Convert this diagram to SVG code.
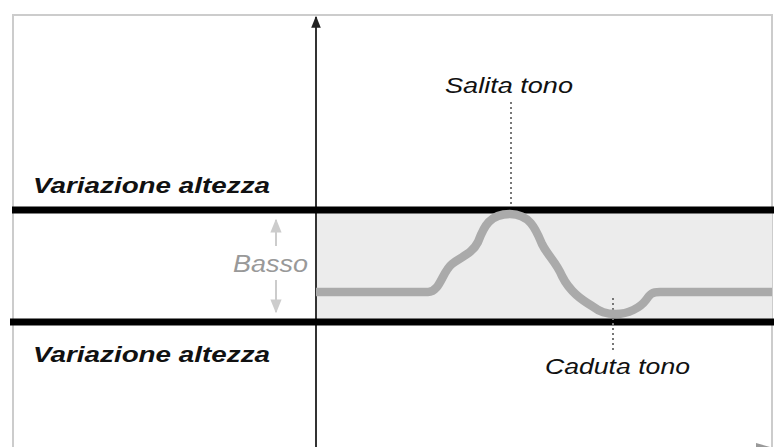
<svg xmlns="http://www.w3.org/2000/svg" width="776" height="447" viewBox="0 0 776 447">
<style>
.lbl{font-family:"Liberation Sans",Arial,sans-serif;font-style:italic;fill:#111}
.b{font-weight:bold}
.dot{stroke:#777;stroke-width:2;stroke-dasharray:2 3;fill:none}
</style>
<defs>
<marker id="ah" viewBox="0 0 10 10" refX="9" refY="5" markerWidth="6" markerHeight="6" orient="auto"><path d="M0,1 L10,5 L0,9 Z" fill="#222"/></marker>
<marker id="ahg" viewBox="0 0 10 10" refX="9" refY="5" markerWidth="7" markerHeight="7" orient="auto"><path d="M0,1 L10,5 L0,9 Z" fill="#ccc"/></marker>
</defs>
<rect width="776" height="447" fill="#fff"/>
<g id="frame">
<rect x="13" y="15" width="759" height="450" fill="none" stroke="#ccc" stroke-width="2"/>
<rect x="316" y="210" width="456" height="112" fill="#ececec"/>
</g>
<g id="connectors">
<line x1="316" y1="447" x2="316" y2="17" stroke="#333" stroke-width="2" marker-end="url(#ah)"/>
<path d="M756,443 L770,447 L756,451 Z" fill="#999"/>
<line x1="12" y1="210" x2="774" y2="210" stroke="#000" stroke-width="7"/>
<line x1="10" y1="322" x2="774" y2="322" stroke="#000" stroke-width="7"/>
<line x1="276" y1="246" x2="276" y2="220" stroke="#ccc" stroke-width="2" marker-end="url(#ahg)"/>
<line x1="276" y1="280" x2="276" y2="312" stroke="#ccc" stroke-width="2" marker-end="url(#ahg)"/>
<line class="dot" x1="511" y1="102" x2="511" y2="206"/>
<line class="dot" x1="613" y1="298" x2="613" y2="350"/>
</g>
<g id="curve">
<path d="M316,292 L428,292 C440,292 442,272 452,264 C462,256 472,254 478,242 C484,226 490,214 510,214 C530,214 536,230 542,244 C548,256 556,262 562,276 C570,292 582,300 592,306 C600,312 606,314 616,314 C628,314 640,308 646,300 C650,294 652,292 660,292 L772,292" fill="none" stroke="#aaa" stroke-width="8.5" stroke-linejoin="round"/>
</g>
<g id="labels">
<text class="lbl b" x="33" y="193" font-size="22" textLength="237" lengthAdjust="spacingAndGlyphs">Variazione altezza</text>
<text class="lbl b" x="33" y="362" font-size="22" textLength="237" lengthAdjust="spacingAndGlyphs">Variazione altezza</text>
<text class="lbl" x="445" y="93" font-size="22" textLength="128" lengthAdjust="spacingAndGlyphs">Salita tono</text>
<text class="lbl" x="545" y="374" font-size="22" textLength="145" lengthAdjust="spacingAndGlyphs">Caduta tono</text>
<text class="lbl" x="233" y="272" font-size="23" style="fill:#999" textLength="75" lengthAdjust="spacingAndGlyphs">Basso</text>
</g>
</svg>
